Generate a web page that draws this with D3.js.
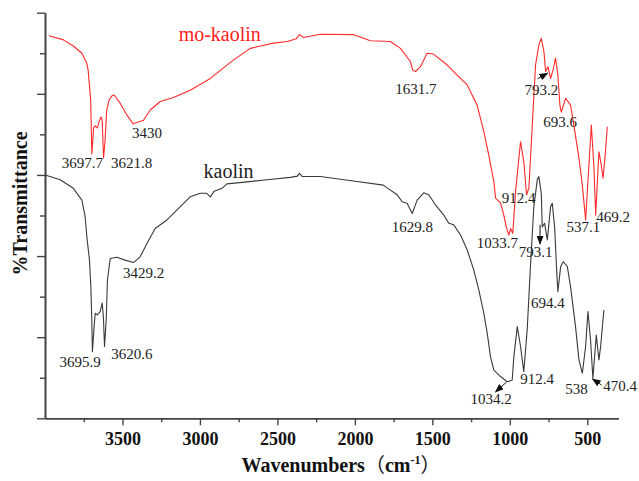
<!DOCTYPE html>
<html><head><meta charset="utf-8">
<script src="https://cdn.jsdelivr.net/npm/d3@7/dist/d3.min.js"></script>
<style>body{margin:0;background:#fff} svg text{font-family:"Liberation Serif","DejaVu Serif","Times New Roman",Times,serif;}</style>
</head><body>
<svg id="chart" width="639" height="481"></svg>
<script>
// ---- data ----
const moWave = [3974,3881,3817,3762,3730,3722,3705,3698,3686,3676,3663,3651,3638,3631,3622,3612,3602,3586,3568,3554,3515,3472,3431,3364,3321,3256,3171,3063,2933,2785,2675,2526,2436,2378,2358,2346,2333,2223,2010,1900,1771,1706,1641,1628,1609,1577,1534,1493,1404,1340,1275,1211,1168,1136,1103,1092,1060,1039,1021,1006,995,981,963,931,910,892,877,855,834,813,797,780,769,754,737,721,705,690,677,668,640,608,587,554,532,511,496,474,457,446,425,410,399,386,371];
const moT = [94.3,93.3,91.8,90.0,87.5,85.9,78.5,65.2,71.6,72.1,71.6,73.1,74.3,73.5,64.2,68.6,76.0,78.5,79.5,79.7,77.7,74.8,72.6,73.5,76.0,78.1,79.1,80.9,83.8,88.3,91.2,92.5,92.9,93.6,94.6,94.3,93.9,94.7,94.6,93.1,92.9,91.2,87.9,85.9,85.5,86.7,90.0,89.8,87.1,84.6,82.2,77.2,70.7,64.9,58.3,54.3,53.1,50.1,46.9,45.2,46.8,45.6,55.9,68.2,63.3,55.1,56.8,72.3,87.1,92.0,93.7,90.4,85.5,86.7,83.8,85.9,88.8,84.6,77.2,75.5,78.9,77.2,72.3,64.2,57.5,48.9,58.3,72.3,61.7,50.1,65.7,62.5,59.2,64.2,71.9];

const kaWave = [3999,3902,3817,3762,3741,3730,3713,3704,3698,3694,3683,3676,3662,3644,3631,3623,3616,3605,3597,3579,3536,3483,3429,3386,3342,3289,3213,3127,3063,2998,2959,2933,2908,2858,2826,2696,2567,2417,2371,2358,2339,2223,2010,1816,1792,1727,1695,1663,1630,1598,1556,1523,1480,1426,1394,1362,1318,1275,1233,1200,1168,1146,1125,1103,1060,1017,985,974,952,931,910,888,866,845,823,813,797,791,776,758,737,726,711,698,690,672,655,629,608,576,554,532,511,496,479,464,442,425,414,393];
const kaT = [60.0,58.8,56.7,53.8,49.7,44.8,39.0,32.4,24.2,16.4,22.6,25.9,25.5,26.3,28.4,25.0,17.7,24.2,34.1,39.4,39.7,39.0,38.4,39.8,43.1,46.8,48.9,52.2,54.6,55.5,55.5,54.6,56.0,56.7,57.8,58.3,58.8,59.4,59.7,60.4,59.6,59.6,58.5,57.5,56.8,55.1,53.4,53.0,50.5,53.8,55.6,55.1,52.6,50.1,48.1,47.7,45.2,41.5,36.6,31.6,25.9,21.0,15.2,11.9,10.3,9.0,9.4,15.2,22.6,17.7,11.5,21.8,38.2,52.2,58.8,59.6,55.5,47.2,48.1,44.0,52.2,53.0,47.2,36.6,31.2,37.4,38.6,37.4,32.4,22.6,14.4,11.1,17.7,26.3,19.3,9.9,20.5,14.4,17.7,26.7];

const seriesNames = ["mo-kaolin", "kaolin"];
const seriesNameWave = [2872, 2815];
const seriesNameT = [92.9, 59.2];

const moPeakText = ["3697.7","3621.8","3430","1631.7","793.2","693.6","912.4","1033.7","537.1","469.2"];
const moPeakWave = [3758,3441,3342,1607,796,676,944,1081,525,333];
const moPeakT = [61.6,61.6,69.0,79.9,79.7,71.7,53.0,41.9,46.0,48.5];

const kaPeakText = ["3695.9","3620.6","3429.2","1629.8","793.1","694.4","912.4","1034.2","538","470.4"];
const kaPeakWave = [3773,3439,3364,1629,834,755,824,1121,570,288];
const kaPeakT = [12.7,14.6,34.5,46.0,39.7,27.1,8.5,3.5,6.1,6.8];

// arrows: [fromWave, fromT, toWave, toT]
const arrowFromWave = [821, 805, 1021, 408];
const arrowFromT = [83.7, 47.7, 8.95, 8.2];
const arrowToWave = [757, 805, 1092, 466];
const arrowToT = [85.1, 43.0, 6.5, 9.7];

const xMajorTicks = [3500,3000,2500,2000,1500,1000,500];
const xMinorTicks = [3750,3250,2750,2250,1750,1250,750];
const yMajorTicks = [0,20,40,60,80,100];
const yMinorTicks = [10,30,50,70,90];

// ---- layout ----
const svg = d3.select("#chart");
const X0 = 45, X1 = 618.3, Y0 = 418.3, Y1 = 12.7;
const x = d3.scaleLinear().domain([4000, 300]).range([X0, X1]);
const y = d3.scaleLinear().domain([0, 100]).range([Y0, Y1]);
const axisColor = "#444";
const serif = "Liberation Serif, DejaVu Serif, Times New Roman, serif";

// axes
svg.append("g").attr("transform", `translate(0,${Y0})`)
  .call(d3.axisBottom(x).tickValues(xMinorTicks).tickSize(4).tickSizeOuter(0).tickFormat(""));
const gx = svg.append("g").attr("transform", `translate(0,${Y0})`)
  .call(d3.axisBottom(x).tickValues(xMajorTicks).tickSize(7).tickSizeOuter(0).tickFormat(d3.format("d")));
gx.attr("font-family", serif).attr("font-size", 18).attr("font-weight", "bold");
gx.selectAll("text").attr("dy", null).attr("y", 26.7).attr("fill", "#111");

svg.append("g").attr("transform", `translate(${X0},0)`)
  .call(d3.axisLeft(y).tickValues(yMinorTicks).tickSize(5).tickSizeOuter(0).tickFormat(""));
svg.append("g").attr("transform", `translate(${X0},0)`)
  .call(d3.axisLeft(y).tickValues(yMajorTicks).tickSize(8).tickSizeOuter(0).tickFormat(""));

svg.selectAll(".domain").attr("stroke", axisColor).attr("stroke-width", 1.6);
svg.selectAll(".tick line").attr("stroke", axisColor).attr("stroke-width", 1.4);

// axis titles
svg.append("text")
  .attr("transform", "translate(27,203.5) rotate(-90)")
  .attr("text-anchor", "middle")
  .attr("font-family", serif).attr("font-weight", "bold").attr("font-size", 20)
  .attr("fill", "#111")
  .text("%Transmittance");

const xt = svg.append("text")
  .attr("x", 341).attr("y", 472)
  .attr("text-anchor", "middle")
  .attr("font-family", serif).attr("font-weight", "bold").attr("font-size", 20)
  .attr("fill", "#111");
xt.append("tspan").text("Wavenumbers");
xt.append("tspan").attr("font-family", "Noto Sans CJK SC").attr("font-weight", "normal").text("（");
xt.append("tspan").text("cm");
xt.append("tspan").attr("dy", -8).attr("font-size", 12).text("-1");
xt.append("tspan").attr("dy", 8).attr("font-family", "Noto Sans CJK SC").attr("font-weight", "normal").text("）");

// curves
const line = d3.line().x(d => x(d[0])).y(d => y(d[1]));
const moData = moWave.map((w, i) => [w, moT[i]]);
const kaData = kaWave.map((w, i) => [w, kaT[i]]);
svg.append("path").datum(moData).attr("d", line)
  .attr("fill", "none").attr("stroke", "#ff2a2a").attr("stroke-width", 1.1).attr("stroke-linejoin", "round");
svg.append("path").datum(kaData).attr("d", line)
  .attr("fill", "none").attr("stroke", "#3a3a3a").attr("stroke-width", 1.1).attr("stroke-linejoin", "round");

// series names
const nameColors = ["#ff2020", "#222"];
seriesNames.forEach((n, i) => {
  svg.append("text").attr("x", x(seriesNameWave[i])).attr("y", y(seriesNameT[i]))
    .attr("text-anchor", "middle")
    .attr("font-family", serif).attr("font-size", 20)
    .attr("fill", nameColors[i]).text(n);
});

// peak labels
function labels(texts, waves, ts) {
  texts.forEach((t, i) => {
    svg.append("text").attr("x", x(waves[i])).attr("y", y(ts[i]))
      .attr("text-anchor", "middle")
      .attr("font-family", serif).attr("font-size", 15)
      .attr("fill", "#222").text(t);
  });
}
labels(moPeakText, moPeakWave, moPeakT);
labels(kaPeakText, kaPeakWave, kaPeakT);

// arrows
svg.append("defs").append("marker")
  .attr("id", "ah").attr("markerUnits", "userSpaceOnUse")
  .attr("markerWidth", 9).attr("markerHeight", 7)
  .attr("refX", 8).attr("refY", 3.5).attr("orient", "auto")
  .append("path").attr("d", "M0,0 L9,3.5 L0,7 Z").attr("fill", "#111");
arrowFromWave.forEach((w, i) => {
  svg.append("line")
    .attr("x1", x(w)).attr("y1", y(arrowFromT[i]))
    .attr("x2", x(arrowToWave[i])).attr("y2", y(arrowToT[i]))
    .attr("stroke", "#111").attr("stroke-width", 1)
    .attr("marker-end", "url(#ah)");
});
</script>
</body></html>
